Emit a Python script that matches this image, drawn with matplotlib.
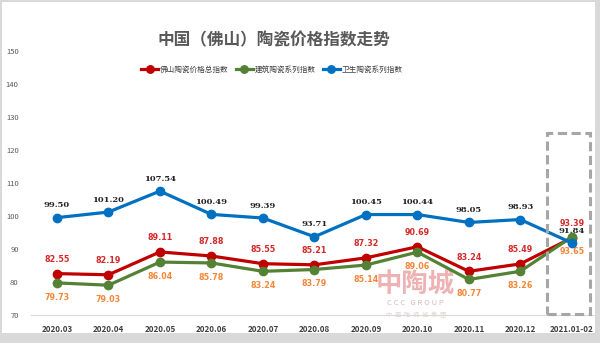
import matplotlib.pyplot as plt
from matplotlib.patches import Rectangle

plt.rcParams['font.family'] = ['Noto Sans CJK SC', 'DejaVu Sans']

months = ['2020.03', '2020.04', '2020.05', '2020.06', '2020.07', '2020.08',
          '2020.09', '2020.10', '2020.11', '2020.12', '2021.01-02']
total_idx = [82.55, 82.19, 89.11, 87.88, 85.55, 85.21, 87.32, 90.69, 83.24, 85.49, 93.39]
build_idx = [79.73, 79.03, 86.04, 85.78, 83.24, 83.79, 85.14, 89.06, 80.77, 83.26, 93.65]
sanit_idx = [99.50, 101.20, 107.54, 100.49, 99.39, 93.71, 100.45, 100.44, 98.05, 98.93, 91.84]
series_names = ['佛山陶瓷价格总指数', '建筑陶瓷系列指数', '卫生陶瓷系列指数']
y_ticks = [70, 80, 90, 100, 110, 120, 130, 140, 150]

red = '#C00000'
green = '#548235'
blue = '#0070C0'

fig = plt.figure(figsize=(6, 3.43), dpi=100, facecolor='#D9D9D9')
# white panel inside the gray frame
fig.patches.append(Rectangle((2 / 600, 10 / 343), 593 / 600, 331 / 343,
                             transform=fig.transFigure, facecolor='white',
                             edgecolor='none', zorder=-5))

# watermark, kept under the lines
fig.text(0.692, 0.168, '中陶城', fontsize=19, fontweight='bold', color='#E9999C',
         alpha=0.75, ha='center', va='center', zorder=-2)
fig.text(0.693, 0.116, 'C C C   G R O U P', fontsize=5.5, color='#C9A8AA', alpha=0.8,
         ha='center', va='center', zorder=-2)
fig.text(0.693, 0.082, '中  国  陶  瓷  城  集  团', fontsize=4.5, color='#DCC8C8',
         alpha=0.8, ha='center', va='center', zorder=-2)

ax = fig.add_axes([0.052, 0.0816, 0.944, 0.7697])
ax.set_facecolor('none')
x = list(range(len(months)))

l1, = ax.plot(x, total_idx, color=red, lw=2.3, marker='o', ms=6, zorder=3)
l2, = ax.plot(x, build_idx, color=green, lw=2.3, marker='o', ms=6, zorder=3)
l3, = ax.plot(x, sanit_idx, color=blue, lw=2.3, marker='o', ms=6, zorder=4)

for i in x:
    ax.annotate(f'{total_idx[i]:.2f}', (i, total_idx[i]), xytext=(0, 7),
                textcoords='offset points', ha='center', va='bottom',
                fontsize=5.8, fontweight='bold', color='#D42A2A', family='DejaVu Sans')
    ax.annotate(f'{build_idx[i]:.2f}', (i, build_idx[i]), xytext=(0, -7),
                textcoords='offset points', ha='center', va='top',
                fontsize=5.8, fontweight='bold', color='#F4873A', family='DejaVu Sans')
    ax.annotate(f'{sanit_idx[i]:.2f}', (i, sanit_idx[i]), xytext=(0, 6),
                textcoords='offset points', ha='center', va='bottom',
                fontsize=6, fontweight='bold', color='#222222', family='DejaVu Serif')

ax.set_xlim(-0.5, len(months) - 0.5)
ax.set_ylim(70, 150)
ax.set_yticks(y_ticks)
ax.set_xticks(x)
ax.set_xticklabels(months, fontsize=5.8, fontweight='bold', color='#404040')
ax.tick_params(axis='x', length=0, pad=7)
ax.tick_params(axis='y', length=0, pad=9, labelsize=5.5, labelcolor='#595959')
for s in ['top', 'right', 'left']:
    ax.spines[s].set_visible(False)
ax.spines['bottom'].set_color('#D9D9D9')
ax.spines['bottom'].set_linewidth(0.8)

# dashed box highlighting the latest period
ax.add_patch(Rectangle((9.52, 70.3), 0.84, 54.8, fill=False, edgecolor='#A6A6A6',
                       lw=2.2, ls=(0, (3, 1.5)), zorder=5, clip_on=False))

fig.text(0.457, 0.883, '中国（佛山）陶瓷价格指数走势', fontsize=12, fontweight='bold',
         color='#595959', ha='center', va='center')
fig.legend([l1, l2, l3], series_names, loc='center', bbox_to_anchor=(0.453, 0.797),
           ncol=3, frameon=False, fontsize=5.5, handlelength=2.2, handletextpad=0.2,
           columnspacing=1.0, labelcolor='#404040', markerscale=0.9)

fig.savefig('out.png', dpi=100, facecolor=fig.get_facecolor())
